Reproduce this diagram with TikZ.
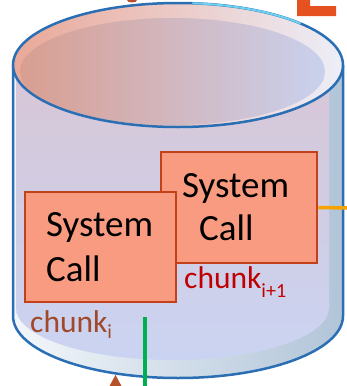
\documentclass[tikz,border=0pt]{standalone}
\usepackage{fontspec}
\setmainfont{Carlito}
\definecolor{cylblue}{HTML}{2A6EB4}
\definecolor{boxfill}{HTML}{F89B80}
\definecolor{boxdraw}{HTML}{C2401A}
\definecolor{chunkred}{HTML}{C00000}
\definecolor{chunkbrown}{HTML}{A0482A}
\definecolor{greenline}{HTML}{00B050}
\definecolor{orangeline}{HTML}{F5A300}
\definecolor{topL}{HTML}{E65122}
\definecolor{tribrown}{HTML}{B5522C}
\begin{document}
\begin{tikzpicture}[x=1pt,y=-1pt,
  callbox/.style={draw=boxdraw, line width=2.8pt, fill=boxfill, inner sep=0pt},
  calltext/.style={font=\fontsize{37}{44}\selectfont, anchor=base west, inner sep=0pt, text=black},
  chunktext/.style={font=\fontsize{31.5}{36}\selectfont, anchor=base west, inner sep=0pt},
  cylline/.style={draw=cylblue, line width=2.5pt}]
\useasboundingbox (0,0) rectangle (347,386);
% fragments at the top edge
\fill[tribrown] (132,0) ellipse[x radius=5, y radius=2.5];
\fill[topL] (297,0) -- (310,0) -- (310,6) -- (336,6) -- (336,16) -- (297,16) -- cycle;
% cylinder body
\path[left color=white!80!cylblue!30, middle color=white!85!cylblue!25, right color=black!20!cylblue!35!white]
  (13,65) -- (13,316) arc[start angle=180, end angle=0, x radius=165, y radius=62] -- (343,65) -- cycle;
\path[top color={rgb,255:red,216;green,198;blue,214}, bottom color={rgb,255:red,202;green,212;blue,242}]
  (16,65) -- (16,308) arc[start angle=180, end angle=0, x radius=156.5, y radius=52] -- (329,65) -- cycle;
\draw[cylline] (13,65) -- (13,316) arc[start angle=180, end angle=0, x radius=165, y radius=62] -- (343,65);
% top face
\path[left color={rgb,255:red,234;green,168;blue,152}, middle color={rgb,255:red,250;green,240;blue,242}, right color={rgb,255:red,236;green,238;blue,248}]
  (178,65) ellipse[x radius=165, y radius=62];
\path[left color={rgb,255:red,217;green,158;blue,145}, middle color={rgb,255:red,212;green,186;blue,200}, right color={rgb,255:red,201;green,209;blue,238}]
  (172.5,71.5) ellipse[x radius=152.5, y radius=53.5];
\draw[cylline] (178,65) ellipse[x radius=165, y radius=62];
\draw[draw={rgb,255:red,110;green,208;blue,240}, line width=2pt] (178,65) ++(275:165 and 62) arc[start angle=275, end angle=318, x radius=165, y radius=62];
% boxes
\node[callbox, minimum width=156pt, minimum height=111pt] (box2) at (239,207.5) {};
\node[callbox, minimum width=151pt, minimum height=110pt] (box1) at (100.5,247) {};
\node[calltext] (t2a) at (182,197) {System};
\node[calltext] (t2b) at (199,240) {Call};
\node[calltext] (t1a) at (46,236) {System};
\node[calltext] (t1b) at (46,281) {Call};
\node[chunktext, text=chunkred] (c2) at (184,288) {chunk\raisebox{-9pt}{\fontsize{20}{24}\selectfont i+1}};
\node[chunktext, text=chunkbrown] (c1) at (30,332) {chunk\raisebox{-6pt}{\fontsize{20}{24}\selectfont i}};
% connectors
\coordinate (oend) at (347,208);
\draw[orangeline, line width=3.5pt] (box2.east) -- (oend);
\coordinate (gtop) at (145,317);
\coordinate (gbot) at (145,386);
\draw[greenline, line width=4.5pt] (gtop) -- (gbot);
\fill[tribrown] (115.5,375) -- (121.5,386) -- (109.5,386) -- cycle;
\end{tikzpicture}
\end{document}
